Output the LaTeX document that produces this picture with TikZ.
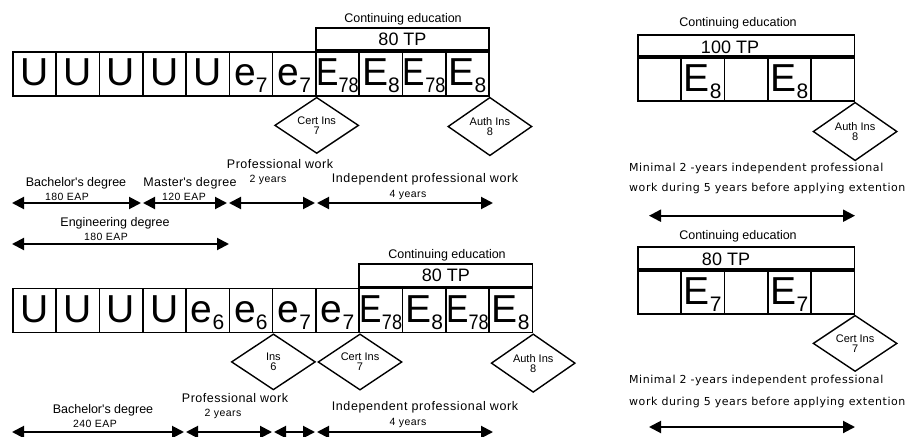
\documentclass[tikz,border=0pt]{standalone}
\usepackage{fontspec}
\setmainfont{Liberation Sans}
\newfontfamily\notefont{DejaVu Sans}
\usetikzlibrary{shapes.geometric,arrows.meta}

% big credit letter with its level as a lowered index
\newcommand\Sym[2]{\fontsize{39}{39}\selectfont #1\raisebox{-7pt}{\fontsize{21}{21}\selectfont #2}}
\newcommand\SymN[2]{\scalebox{0.86}[1]{\Sym{#1}{#2}}}

\tikzset{
  cell/.style={draw, line width=1.6pt, minimum width=43.3pt, minimum height=44pt,
    inner sep=0pt, anchor=north west, text height=30pt, text depth=6pt},
  tpbox/.style={draw, line width=1.6pt, inner sep=0pt, anchor=south west,
    font=\fontsize{18}{18}\selectfont},
  exam/.style={shape=diamond, draw, line width=1.4pt, minimum width=84pt,
    minimum height=56pt, inner sep=0pt, anchor=north, align=center,
    font=\fontsize{11}{10}\selectfont},
  lbl/.style={inner sep=0pt, anchor=base, font=\fontsize{12.5}{14}\selectfont},
  lblw/.style={inner sep=0pt, anchor=base,
    font=\fontsize{12.5}{14}\selectfont\addfontfeature{LetterSpace=#1}},
  small/.style={inner sep=0pt, anchor=base,
    font=\fontsize{10.5}{12}\selectfont\addfontfeature{LetterSpace=4}},
  note/.style={inner sep=0pt, anchor=base west,
    font=\notefont\fontsize{11}{12}\selectfont\addfontfeature{LetterSpace=5}},
  span/.style={line width=2pt,
    arrows={Triangle[length=12pt,width=12pt]-Triangle[length=12pt,width=12pt]}},
}

\begin{document}
\begin{tikzpicture}[x=1pt,y=-1pt]
\useasboundingbox (0,0) rectangle (912,436);

% ---------- upper left path ----------
\foreach \s [count=\i] in {\Sym{U}{},\Sym{U}{},\Sym{U}{},\Sym{U}{},\Sym{U}{},
    \Sym{e}{7},\Sym{e}{7},\SymN{E}{78},\Sym{E}{8},\SymN{E}{78},\Sym{E}{8}}
  \node[cell] (a\i) at ({12+(\i-1)*43.3},51) {\s};
\node[tpbox, minimum width=173.2pt, minimum height=22.3pt] (tpa) at (a8.north west) {80 TP};
\node[lbl] (cea) at (403,22.7) {Continuing education};
\node[exam] (xa1) at (a7.south east) {Cert Ins\\7};
\node[exam] (xa2) at (a11.south east) {Auth Ins\\8};

\coordinate (p0) at (12,203);
\coordinate (p1) at (141,203);
\coordinate (p2) at (143,203);
\coordinate (p3) at (227,203);
\coordinate (p4) at (229,203);
\coordinate (p5) at (315,203);
\coordinate (p6) at (317,203);
\coordinate (p7) at (493,203);
\draw[span] (p0) -- (p1);
\draw[span] (p2) -- (p3);
\draw[span] (p4) -- (p5);
\draw[span] (p6) -- (p7);
\coordinate (q0) at (12,244);
\coordinate (q1) at (229,244);
\draw[span] (q0) -- (q1);

\node[lbl] (la1) at (76,186) {Bachelor\textquotesingle s degree};
\node[small] (la2) at (67,200) {180 EAP};
\node[lblw=3] (la3) at (190,186) {Master\textquotesingle s degree};
\node[small] (la4) at (184,200) {120 EAP};
\node[lblw=4] (la5) at (280,168) {Professional work};
\node[small] (la6) at (268,182) {2 years};
\node[lblw=5] (la7) at (425,182) {Independent professional work};
\node[small] (la8) at (408,197) {4 years};
\node[lbl] (la9) at (115,226) {Engineering degree};
\node[small] (la10) at (106,240) {180 EAP};

% ---------- lower left path ----------
\foreach \s [count=\i] in {\Sym{U}{},\Sym{U}{},\Sym{U}{},\Sym{U}{},
    \Sym{e}{6},\Sym{e}{6},\Sym{e}{7},\Sym{e}{7},\SymN{E}{78},\Sym{E}{8},\SymN{E}{78},\Sym{E}{8}}
  \node[cell] (b\i) at ({12+(\i-1)*43.3},287.6) {\s};
\node[tpbox, minimum width=173.2pt, minimum height=22.6pt] (tpb) at (b9.north west) {80 TP};
\node[lbl] (ceb) at (447,258) {Continuing education};
\node[exam] (xb1) at (b6.south east) {Ins\\6};
\node[exam] (xb2) at (b8.south east) {Cert Ins\\7};
\node[exam] (xb3) at (b12.south east) {Auth Ins\\8};

\coordinate (r0) at (12,432);
\coordinate (r1) at (184,432);
\coordinate (r2) at (186,432);
\coordinate (r3) at (272,432);
\coordinate (r4) at (274,432);
\coordinate (r5) at (315,432);
\coordinate (r6) at (317,432);
\coordinate (r7) at (493,432);
\draw[span] (r0) -- (r1);
\draw[span] (r2) -- (r3);
\draw[span] (r4) -- (r5);
\draw[span] (r6) -- (r7);

\node[lbl] (lb1) at (103,413) {Bachelor\textquotesingle s degree};
\node[small] (lb2) at (95,427.6) {240 EAP};
\node[lblw=4] (lb3) at (235,402) {Professional work};
\node[small] (lb4) at (223,416.5) {2 years};
\node[lblw=5] (lb5) at (425,410) {Independent professional work};
\node[small] (lb6) at (408,425) {4 years};

% ---------- upper right extension ----------
\foreach \s [count=\i] in {{},\Sym{E}{8},{},\Sym{E}{8},{}}
  \node[cell, minimum height=43pt] (c\i) at ({637+(\i-1)*43.3},57) {\s};
\node[tpbox, minimum width=216.5pt, minimum height=21pt] (tpc) at (c1.north west) {};
\node[inner sep=0pt, anchor=base, font=\fontsize{18}{18}\selectfont] (tpct) at (730,53) {100 TP};
\node[lbl] (cec) at (738,27) {Continuing education};
\node[exam] (xc) at (c5.south east) {Auth Ins\\8};
\node[note] (nc1) at (629,171.7) {Minimal 2 -years independent professional};
\node[note] (nc2) at (629,191.7) {work during 5 years before applying extention};
\coordinate (s0) at (649,215.7);
\coordinate (s1) at (855,215.7);
\draw[span] (s0) -- (s1);

% ---------- lower right extension ----------
\foreach \s [count=\i] in {{},\Sym{E}{7},{},\Sym{E}{7},{}}
  \node[cell, minimum height=43pt] (d\i) at ({637+(\i-1)*43.3},270) {\s};
\node[tpbox, minimum width=216.5pt, minimum height=22pt] (tpd) at (d1.north west) {};
\node[inner sep=0pt, anchor=base, font=\fontsize{18}{18}\selectfont] (tpdt) at (726,265.7) {80 TP};
\node[lbl] (ced) at (738,239) {Continuing education};
\node[exam, minimum height=54pt] (xd) at (d5.south east) {Cert Ins\\7};
\node[note] (nd1) at (629,383) {Minimal 2 -years independent professional};
\node[note] (nd2) at (629,405) {work during 5 years before applying extention};
\coordinate (u0) at (649,427);
\coordinate (u1) at (855,427);
\draw[span] (u0) -- (u1);
\end{tikzpicture}
\end{document}
